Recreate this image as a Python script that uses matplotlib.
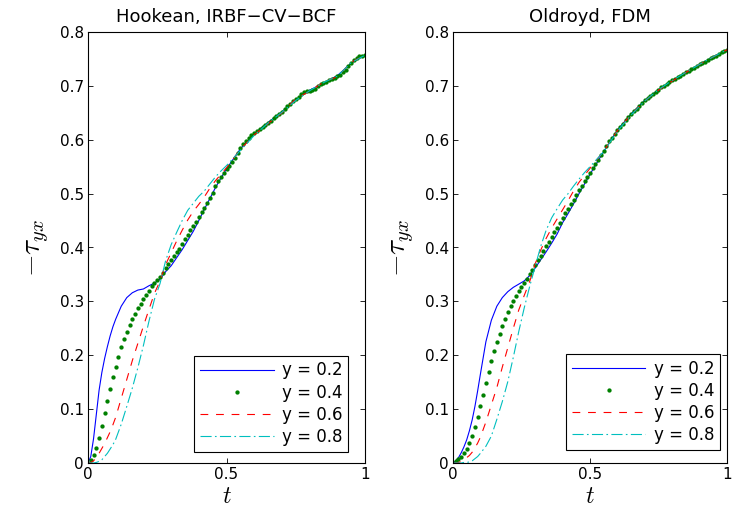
import numpy as np
import matplotlib
matplotlib.use('Agg')
import matplotlib.pyplot as plt

plt.rcParams['font.family'] = ['DejaVu Sans']
plt.rcParams['mathtext.fontset'] = 'cm'

# time grid of the dotted (y = 0.4) series, one marker every 0.01
t_dots = np.linspace(0, 1, 101)
# shared time grid of the line series
t_line = [0, 0.01, 0.02, 0.03, 0.04, 0.05, 0.06, 0.07, 0.08, 0.09, 0.10,
          0.12, 0.14, 0.16, 0.18, 0.20, 0.22, 0.24, 0.26, 0.28, 0.30,
          0.32, 0.34, 0.36, 0.38, 0.40, 0.42, 0.44, 0.46, 0.48, 0.50,
          0.55, 0.60, 0.65, 0.70, 0.75, 0.80, 0.85, 0.90, 0.95, 1.00]

# ---- Hookean, IRBF-CV-BCF ----
hk_y02 = [0, 0.012, 0.045, 0.090, 0.135, 0.168, 0.194, 0.216, 0.236, 0.253, 0.267,
          0.291, 0.307, 0.316, 0.321, 0.323, 0.329, 0.334, 0.341, 0.355, 0.366,
          0.381, 0.396, 0.413, 0.430, 0.450, 0.471, 0.491, 0.511, 0.529, 0.546,
          0.583, 0.611, 0.632, 0.652, 0.674, 0.692, 0.705, 0.719, 0.742, 0.757]
hk_y04 = [0, 0.005, 0.014, 0.027, 0.047, 0.069, 0.092, 0.115, 0.138, 0.160,
          0.179, 0.197, 0.215, 0.230, 0.244, 0.256, 0.267, 0.277, 0.287, 0.296,
          0.304, 0.312, 0.320, 0.328, 0.334, 0.339, 0.345, 0.353, 0.362, 0.370,
          0.377, 0.384, 0.391, 0.398, 0.406, 0.415, 0.424, 0.432, 0.439, 0.447,
          0.456, 0.466, 0.474, 0.482, 0.491, 0.502, 0.514, 0.524, 0.531, 0.538,
          0.545, 0.551, 0.558, 0.566, 0.575, 0.584, 0.592, 0.598, 0.604, 0.608,
          0.612, 0.616, 0.620, 0.624, 0.627, 0.631, 0.635, 0.640, 0.645, 0.648,
          0.651, 0.657, 0.663, 0.667, 0.671, 0.675, 0.679, 0.684, 0.688, 0.690,
          0.691, 0.692, 0.695, 0.699, 0.703, 0.706, 0.708, 0.710, 0.712, 0.715,
          0.718, 0.721, 0.725, 0.730, 0.737, 0.743, 0.748, 0.752, 0.755, 0.756,
          0.757]
hk_y06 = [0, 0.001, 0.004, 0.010, 0.018, 0.027, 0.036, 0.047, 0.058, 0.071, 0.085,
          0.120, 0.155, 0.190, 0.222, 0.254, 0.285, 0.315, 0.338, 0.368, 0.390,
          0.412, 0.432, 0.451, 0.467, 0.480, 0.494, 0.510, 0.524, 0.536, 0.548,
          0.582, 0.609, 0.630, 0.650, 0.676, 0.690, 0.707, 0.717, 0.744, 0.757]
hk_y08 = [0, 0, 0, 0.001, 0.003, 0.006, 0.012, 0.018, 0.026, 0.034, 0.044,
          0.072, 0.105, 0.139, 0.177, 0.218, 0.263, 0.304, 0.333, 0.375, 0.405,
          0.428, 0.450, 0.469, 0.482, 0.495, 0.505, 0.518, 0.531, 0.542, 0.552,
          0.580, 0.608, 0.631, 0.651, 0.673, 0.691, 0.706, 0.718, 0.743, 0.757]

# ---- Oldroyd, FDM ----
od_y02 = [0, 0.004, 0.010, 0.019, 0.030, 0.043, 0.060, 0.080, 0.105, 0.134, 0.165,
          0.225, 0.265, 0.291, 0.307, 0.318, 0.326, 0.332, 0.338, 0.348, 0.362,
          0.377, 0.392, 0.408, 0.425, 0.446, 0.463, 0.481, 0.500, 0.518, 0.536,
          0.578, 0.618, 0.648, 0.673, 0.693, 0.710, 0.725, 0.740, 0.754, 0.767]
od_y04 = [0, 0.003, 0.007, 0.011, 0.018, 0.026, 0.038, 0.051, 0.067, 0.086,
          0.106, 0.126, 0.148, 0.169, 0.189, 0.207, 0.224, 0.240, 0.255, 0.268,
          0.280, 0.291, 0.301, 0.310, 0.319, 0.327, 0.335, 0.342, 0.350, 0.358,
          0.367, 0.376, 0.385, 0.394, 0.402, 0.411, 0.420, 0.428, 0.437, 0.446,
          0.455, 0.464, 0.472, 0.480, 0.489, 0.497, 0.506, 0.514, 0.523, 0.531,
          0.539, 0.547, 0.555, 0.563, 0.571, 0.580, 0.589, 0.597, 0.604, 0.611,
          0.618, 0.624, 0.630, 0.636, 0.642, 0.648, 0.653, 0.658, 0.663, 0.668,
          0.673, 0.677, 0.681, 0.685, 0.689, 0.693, 0.697, 0.700, 0.704, 0.707,
          0.710, 0.713, 0.716, 0.719, 0.722, 0.725, 0.728, 0.731, 0.734, 0.737,
          0.740, 0.743, 0.745, 0.748, 0.751, 0.754, 0.756, 0.759, 0.762, 0.764,
          0.767]
od_y06 = [0, 0, 0.001, 0.003, 0.006, 0.010, 0.014, 0.020, 0.028, 0.037, 0.048,
          0.076, 0.108, 0.140, 0.178, 0.214, 0.250, 0.284, 0.311, 0.337, 0.370,
          0.395, 0.417, 0.436, 0.453, 0.470, 0.487, 0.505, 0.521, 0.534, 0.547,
          0.579, 0.617, 0.647, 0.672, 0.692, 0.709, 0.725, 0.740, 0.754, 0.767]
od_y08 = [0, 0, 0, 0, 0.001, 0.001, 0.002, 0.004, 0.008, 0.012, 0.018,
          0.031, 0.050, 0.081, 0.114, 0.151, 0.196, 0.244, 0.288, 0.328, 0.365,
          0.402, 0.432, 0.455, 0.472, 0.488, 0.500, 0.514, 0.527, 0.539, 0.550,
          0.578, 0.616, 0.646, 0.672, 0.693, 0.710, 0.725, 0.740, 0.754, 0.767]

titles = ['Hookean, IRBF\u2212CV\u2212BCF', 'Oldroyd, FDM']
labels = ['y = 0.2', 'y = 0.4', 'y = 0.6', 'y = 0.8']
yticks = [0, 0.1, 0.2, 0.3, 0.4, 0.5, 0.6, 0.7, 0.8]
ytick_labels = ['0', '0.1', '0.2', '0.3', '0.4', '0.5', '0.6', '0.7', '0.8']
xticks = [0, 0.5, 1]
xtick_labels = ['0', '0.5', '1']

panels = [(hk_y02, hk_y04, hk_y06, hk_y08), (od_y02, od_y04, od_y06, od_y08)]

fig = plt.figure(figsize=(7.34, 5.11), dpi=100)
ax1 = fig.add_axes([88 / 734, 48 / 511, 277 / 734, 431 / 511])
ax2 = fig.add_axes([453 / 734, 48 / 511, 274 / 734, 431 / 511])
leg_anchor = [(0.94, 0.026), (0.975, 0.03)]

for ax, data, title, anchor in zip([ax1, ax2], panels, titles, leg_anchor):
    y02, y04, y06, y08 = data
    ax.plot(t_line, y02, color='b', lw=0.8, label=labels[0])
    ax.plot(t_dots, y04, 'o', color=(0, 0.5, 0), ms=3.1, mec='none', label=labels[1])
    ax.plot(t_line, y06, color='r', lw=0.8, dashes=(7, 7), label=labels[2])
    ax.plot(t_line, y08, color=(0, 0.75, 0.75), lw=0.8, dashes=(10, 3, 1.5, 3), label=labels[3])

    ax.set_xlim(0, 1)
    ax.set_ylim(0, 0.8)
    ax.set_xticks(xticks)
    ax.set_xticklabels(xtick_labels)
    ax.set_yticks(yticks)
    ax.set_yticklabels(ytick_labels)
    ax.tick_params(direction='in', length=3.5, width=0.6, top=True, right=True, labelsize=11, pad=3)
    for s in ax.spines.values():
        s.set_linewidth(0.8)

    ax.set_title(title, fontsize=13, pad=7)
    ax.set_xlabel('$t$', fontsize=17, labelpad=1)
    ax.set_ylabel('$-\\tau_{yx}$', fontsize=21, labelpad=6)

    leg = ax.legend(loc='lower right', bbox_to_anchor=anchor, borderaxespad=0,
                    fancybox=False, edgecolor='k', framealpha=1, fontsize=12,
                    handlelength=4.4, handletextpad=0.5, numpoints=1,
                    labelspacing=0.25, borderpad=0.35)
    leg.get_frame().set_linewidth(0.8)

fig.savefig('out.png', dpi=100)
